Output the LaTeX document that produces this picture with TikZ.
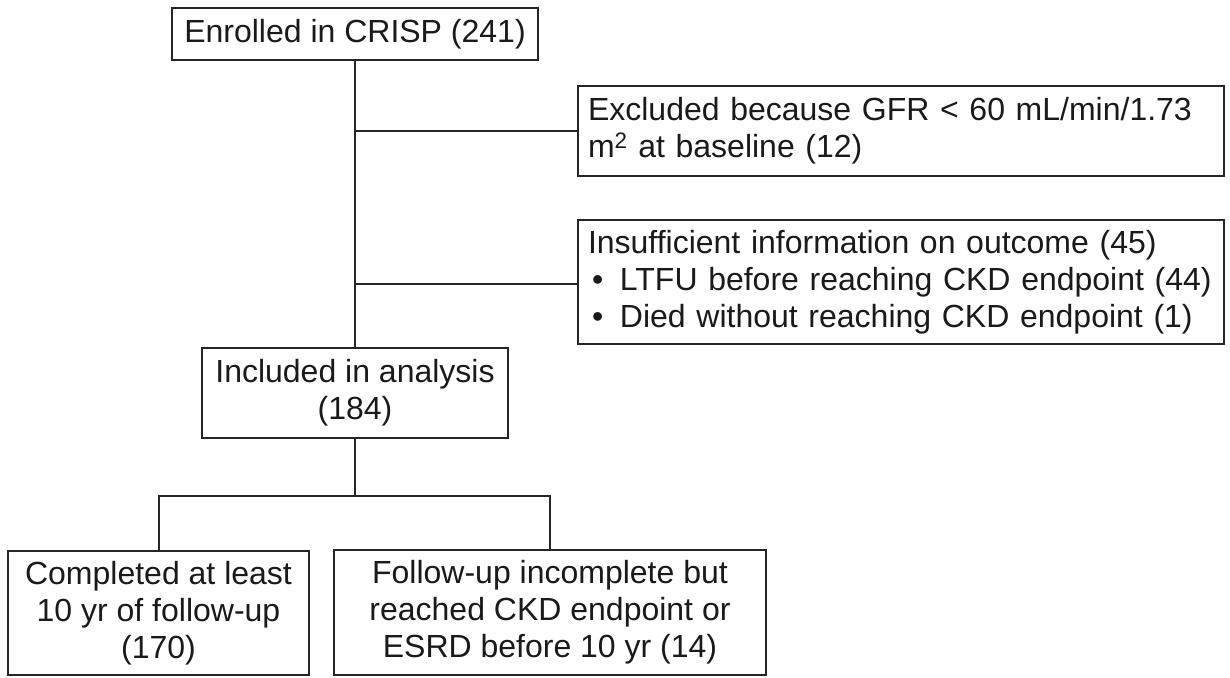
\documentclass[tikz,border=0pt]{standalone}
\usepackage{fontspec}
\setmainfont{Liberation Sans}
\definecolor{linecol}{HTML}{262626}
\definecolor{txtcol}{HTML}{1A1A1A}
\begin{document}
\begin{tikzpicture}[x=1pt,y=-1pt,
  box/.style={draw=linecol, line width=2pt, rectangle, inner sep=0pt,
    font=\fontsize{32}{37}\selectfont, text=txtcol, fill=white},
  cbox/.style={box, align=center},
  lbox/.style={box, align=left, inner xsep=10pt, text width=626pt},
  conn/.style={draw=linecol, line width=2pt}]
\useasboundingbox (0,0) rectangle (1230,677);
\node[cbox, minimum width=366pt, minimum height=52pt] (enrolled) at (355,34) {Enrolled in CRISP (241)};
\node[lbox, minimum height=90pt] (excl) at (901,131)
  {Excluded because GFR < 60 mL/min/1.73\\m\textsuperscript{2} at baseline (12)};
\node[lbox, minimum height=124pt] (insuff) at (901,282)
  {Insufficient information on outcome (45)\\
   \makebox[32pt][l]{\hspace{4pt}\textbullet}LTFU before reaching CKD endpoint (44)\\
   \makebox[32pt][l]{\hspace{4pt}\textbullet}Died without reaching CKD endpoint (1)};
\node[cbox, minimum width=306pt, minimum height=90pt] (included) at (355,393)
  {Included in analysis\\(184)};
\node[cbox, minimum width=301pt, minimum height=124pt] (completed) at (158.5,613)
  {Completed at least\\10 yr of follow-up\\(170)};
\node[cbox, minimum width=432pt, minimum height=125pt] (followup) at (550,612.5)
  {Follow-up incomplete but\\reached CKD endpoint or\\ESRD before 10 yr (14)};
\coordinate (j1) at (355,131);
\coordinate (j2) at (355,284);
\coordinate (split) at (355,496);
\draw[conn] (enrolled.south) -- (included.north);
\draw[conn] (j1) -- (excl.west);
\draw[conn] (j2) -- (j2 -| insuff.west);
\draw[conn] (included.south) -- (split);
\draw[conn, line join=miter] (completed.north) |- (split) -| (followup.north);
\end{tikzpicture}
\end{document}
